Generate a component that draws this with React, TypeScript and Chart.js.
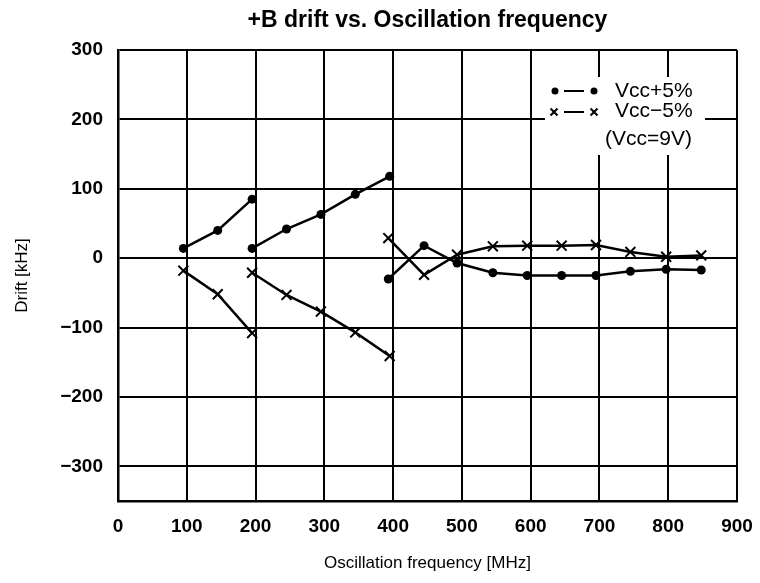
import React, { useEffect, useRef } from "react";
import { Chart, registerables } from "chart.js";

Chart.register(...registerables);

// ---- data ----
const chartTitle = "+B drift vs. Oscillation frequency";
const xAxisTitle = "Oscillation frequency [MHz]";
const yAxisTitle = "Drift [kHz]";
const xTickValues = [0, 100, 200, 300, 400, 500, 600, 700, 800, 900];
const yTickValues = [-300, -200, -100, 0, 100, 200, 300];

const band1Freq = [95, 145, 195];
const band2Freq = [195, 245, 295, 345, 395];
const band3Freq = [393, 445, 493, 545, 595, 645, 695, 745, 797, 848];

const vccPlusBand1 = [14, 40, 85];
const vccPlusBand2 = [14, 42, 63, 92, 118];
const vccPlusBand3 = [-30, 18, -7, -21, -25, -25, -25, -19, -16, -17];

const vccMinusBand1 = [-18, -52, -108];
const vccMinusBand2 = [-21, -53, -77, -107, -141];
const vccMinusBand3 = [29, -24, 5, 17, 18, 18, 19, 9, 2, 4];

const legendLabels = ["Vcc+5%", "Vcc\u22125%", "(Vcc=9V)"];

type Pt = { x: number; y: number | null };

function joinBands(freqs: number[][], vals: number[][]): Pt[] {
  const out: Pt[] = [];
  freqs.forEach((f, i) => {
    f.forEach((x, j) => out.push({ x, y: vals[i][j] }));
    if (i < freqs.length - 1) out.push({ x: f[f.length - 1], y: null });
  });
  return out;
}

const FONT = '"Liberation Sans", Arial, Helvetica, sans-serif';

const overlayPlugin = {
  id: "overlay",
  afterDraw(chart: any) {
    const { ctx, chartArea } = chart;
    ctx.save();
    // title
    ctx.fillStyle = "#000";
    ctx.font = `bold 23px ${FONT}`;
    ctx.textAlign = "center";
    ctx.textBaseline = "alphabetic";
    ctx.fillText(chartTitle, (chartArea.left + chartArea.right) / 2, 19);

    // legend box inside plot
    const bx = chartArea.right - 192;
    const by = chartArea.top + 27;
    const bw = 160;
    const bh = 78;
    ctx.fillStyle = "#fff";
    ctx.fillRect(bx, by, bw, bh);

    ctx.fillStyle = "#000";
    ctx.strokeStyle = "#000";
    ctx.lineWidth = 2;
    const r1 = by + 14;
    const r2 = by + 35;
    // row 1: dot - dot
    ctx.beginPath();
    ctx.arc(bx + 10, r1, 3.5, 0, Math.PI * 2);
    ctx.fill();
    ctx.beginPath();
    ctx.arc(bx + 49, r1, 3.5, 0, Math.PI * 2);
    ctx.fill();
    ctx.beginPath();
    ctx.moveTo(bx + 19, r1);
    ctx.lineTo(bx + 39, r1);
    ctx.stroke();
    // row 2: x - x
    const cross = (cx: number, cy: number) => {
      ctx.beginPath();
      ctx.moveTo(cx - 3.5, cy - 3.5);
      ctx.lineTo(cx + 3.5, cy + 3.5);
      ctx.moveTo(cx + 3.5, cy - 3.5);
      ctx.lineTo(cx - 3.5, cy + 3.5);
      ctx.stroke();
    };
    cross(bx + 9, r2);
    cross(bx + 49, r2);
    ctx.beginPath();
    ctx.moveTo(bx + 19, r2);
    ctx.lineTo(bx + 39, r2);
    ctx.stroke();

    ctx.font = `21px ${FONT}`;
    ctx.textAlign = "left";
    ctx.textBaseline = "middle";
    ctx.fillText(legendLabels[0], bx + 70, r1);
    ctx.fillText(legendLabels[1], bx + 70, r2 - 1);
    ctx.fillText(legendLabels[2], bx + 60, by + 62);
    ctx.restore();
  },
};

export default function App() {
  const canvasRef = useRef<HTMLCanvasElement | null>(null);

  useEffect(() => {
    if (!canvasRef.current) return;
    const chart = new Chart(canvasRef.current, {
      type: "line",
      data: {
        datasets: [
          {
            label: legendLabels[0],
            data: joinBands(
              [band1Freq, band2Freq, band3Freq],
              [vccPlusBand1, vccPlusBand2, vccPlusBand3]
            ) as any,
            borderColor: "#000",
            backgroundColor: "#000",
            borderWidth: 2.5,
            pointStyle: "circle",
            pointRadius: 4.5,
            pointBorderWidth: 0,
            pointBackgroundColor: "#000",
            spanGaps: false,
            tension: 0,
          },
          {
            label: legendLabels[1],
            data: joinBands(
              [band1Freq, band2Freq, band3Freq],
              [vccMinusBand1, vccMinusBand2, vccMinusBand3]
            ) as any,
            borderColor: "#000",
            backgroundColor: "#000",
            borderWidth: 2.5,
            pointStyle: "crossRot",
            pointRadius: 7,
            pointBorderWidth: 2,
            pointBorderColor: "#000",
            spanGaps: false,
            tension: 0,
          },
        ],
      },
      options: {
        responsive: false,
        animation: false,
        events: [],
        layout: { padding: { top: 42, right: 15, left: 0, bottom: 0 } },
        plugins: {
          legend: { display: false },
          title: { display: false },
          tooltip: { enabled: false },
        },
        scales: {
          x: {
            type: "linear",
            min: 0,
            max: 900,
            afterBuildTicks: (s: any) => {
              s.ticks = xTickValues.map((v) => ({ value: v }));
            },
            afterFit: (s: any) => {
              s.height = 74;
              s.paddingRight = 0;
              s.paddingLeft = 0;
            },
            grid: { color: "#000", lineWidth: 2, drawTicks: false },
            border: { display: true, color: "#000", width: 2.5 },
            ticks: {
              padding: 14,
              color: "#000",
              font: { family: FONT, size: 19, weight: "bold" },
              maxRotation: 0,
            },
            title: {
              display: true,
              text: xAxisTitle,
              color: "#000",
              font: { family: FONT, size: 17 },
              padding: { top: 0, bottom: 1 },
            },
          },
          y: {
            type: "linear",
            min: -350,
            max: 300,
            afterBuildTicks: (s: any) => {
              s.ticks = yTickValues.map((v) => ({ value: v }));
            },
            afterFit: (s: any) => {
              s.width = 110;
            },
            grid: { color: "#000", lineWidth: 2, drawTicks: false },
            border: { display: true, color: "#000", width: 2.5 },
            ticks: {
              padding: 15,
              color: "#000",
              font: { family: FONT, size: 19, weight: "bold" },
              callback: (v: any) =>
                Number(v) < 0 ? "\u2212" + Math.abs(Number(v)) : String(v),
            },
            title: {
              display: true,
              text: yAxisTitle,
              color: "#000",
              font: { family: FONT, size: 17 },
              padding: { top: 4, bottom: 0 },
            },
          },
        },
      },
      plugins: [overlayPlugin],
    });
    return () => chart.destroy();
  }, []);

  return (
    <div style={{ width: 744, height: 567 }}>
      <canvas ref={canvasRef} width={744} height={567} />
    </div>
  );
}
